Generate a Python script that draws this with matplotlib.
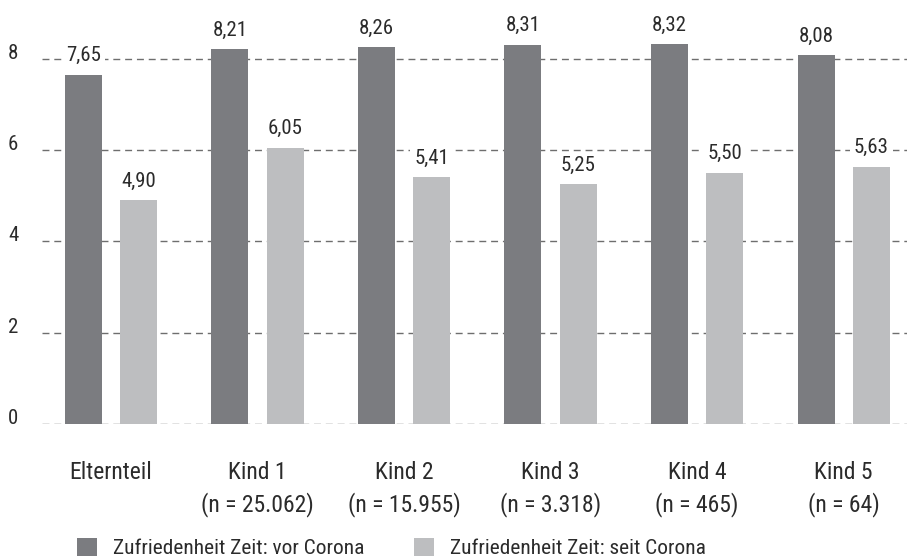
import matplotlib.pyplot as plt
import numpy as np
from matplotlib import font_manager

# data
groups = ["Elternteil", "Kind 1\n(n = 25.062)", "Kind 2\n(n = 15.955)",
          "Kind 3\n(n = 3.318)", "Kind 4\n(n = 465)", "Kind 5\n(n = 64)"]
vor_corona = [7.65, 8.21, 8.26, 8.31, 8.32, 8.08]
seit_corona = [4.90, 6.05, 5.41, 5.25, 5.50, 5.63]
series_names = ["Zufriedenheit Zeit: vor Corona", "Zufriedenheit Zeit: seit Corona"]
y_ticks = [0, 2, 4, 6, 8]

dark = "#7b7c80"
light = "#bdbec0"
text_col = "#2b2b2b"

# narrow face if one is installed, otherwise condensed DejaVu
names = {f.name for f in font_manager.fontManager.ttflist}
family = "DejaVu Sans"
for cand in ["Roboto Condensed", "Liberation Sans Narrow", "Open Sans Condensed"]:
    if cand in names:
        family = cand
        break
plt.rcParams["font.family"] = [family, "DejaVu Sans"]
plt.rcParams["font.stretch"] = "condensed"

fig = plt.figure(figsize=(9.07, 5.6), dpi=100)
ax = fig.add_axes([0.0463, 0.243, 0.9537, 0.725])

x = np.arange(len(groups))
w = 0.2526
off = 0.188

b1 = ax.bar(x - off, vor_corona, w, color=dark, zorder=3, label=series_names[0])
b2 = ax.bar(x + off, seit_corona, w, color=light, zorder=3, label=series_names[1])

for bars, vals in ((b1, vor_corona), (b2, seit_corona)):
    for r, v in zip(bars, vals):
        ax.annotate(f"{v:.2f}".replace(".", ","),
                    (r.get_x() + r.get_width() / 2, v),
                    xytext=(0, 7), textcoords="offset points",
                    ha="center", va="bottom", fontsize=15, color=text_col,
                    bbox=dict(boxstyle="square,pad=0.2", fc="white", ec="none"),
                    zorder=4)

ax.set_xlim(-0.471, len(groups) - 1 + 0.433)
ax.set_ylim(0, 8.9)
ax.set_yticks(y_ticks)
ax.set_yticklabels([str(t) for t in y_ticks], fontsize=15, color=text_col, va="baseline")
ax.set_xticks(x)
ax.set_xticklabels(groups, fontsize=17, color=text_col, linespacing=1.4)
ax.tick_params(axis="both", length=0)
ax.tick_params(axis="y", pad=17)
ax.tick_params(axis="x", pad=27)
for s in ax.spines.values():
    s.set_visible(False)
ax.yaxis.grid(True, linestyle=(0, (5, 3.5)), color="#6e6e6e", linewidth=1.0, zorder=0)
ax.set_axisbelow(True)

leg = fig.legend(handles=[b1, b2], loc="center left", bbox_to_anchor=(0.0849, 0.0214),
                 ncol=2, frameon=False, fontsize=15.4, handlelength=0.95,
                 handleheight=0.95, handletextpad=0.75, columnspacing=2.3,
                 borderpad=0, borderaxespad=0)
for t in leg.get_texts():
    t.set_color(text_col)

fig.savefig("out.png", dpi=100, facecolor="white")
